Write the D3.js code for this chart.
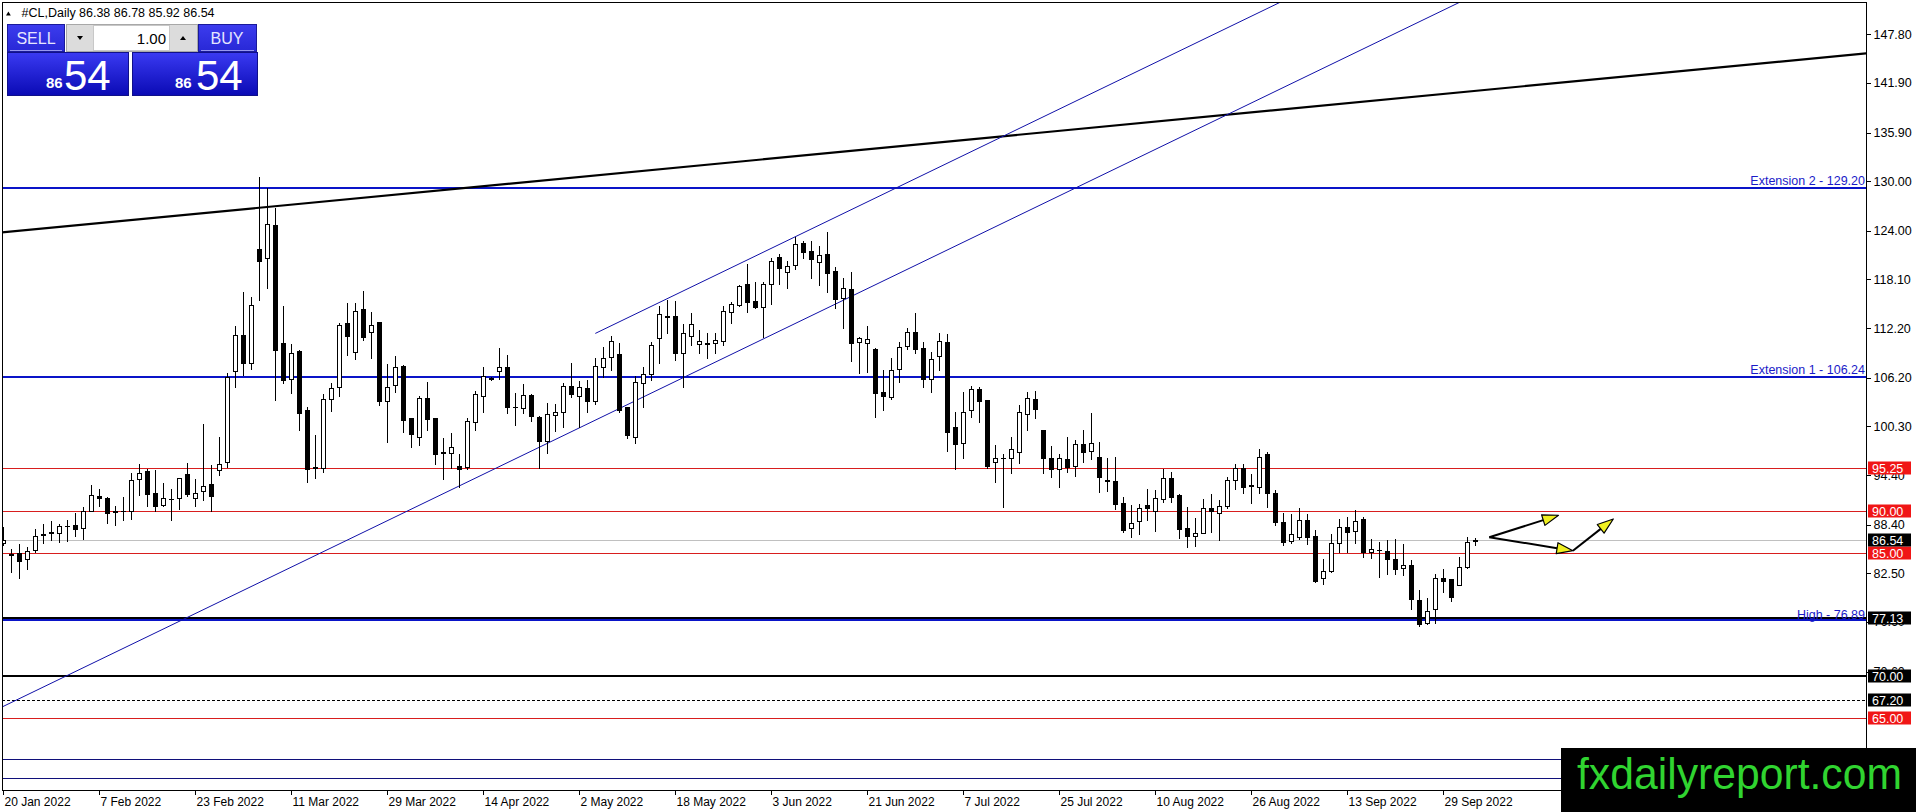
<!DOCTYPE html>
<html><head><meta charset="utf-8">
<script src="https://cdn.jsdelivr.net/npm/d3@7"></script>
<style>
html,body{margin:0;padding:0;background:#fff;overflow:hidden}
svg{display:block}
text{font-family:"Liberation Sans",Arial,sans-serif}
</style></head><body>
<svg id="c" width="1916" height="812"></svg>
<script>
// ---------------- DATA ----------------
const symbolName = "#CL,Daily";
const lastQuote = [86.38, 86.78, 85.92, 86.54];
const dateLabels = ["20 Jan 2022","7 Feb 2022","23 Feb 2022","11 Mar 2022","29 Mar 2022","14 Apr 2022","2 May 2022","18 May 2022","3 Jun 2022","21 Jun 2022","7 Jul 2022","25 Jul 2022","10 Aug 2022","26 Aug 2022","13 Sep 2022","29 Sep 2022"];
const dateTickIndex = [0,12,24,36,48,60,72,84,96,108,120,132,144,156,168,180];
const priceTicks = [147.80,141.90,135.90,130.00,124.00,118.10,112.20,106.20,100.30,94.40,88.40,82.50,76.60,70.60];

const opens = [86.13,84.85,84.9,84.2,85.3,87.15,87.5,87.4,88.2,88.35,87.95,90.1,91.9,91.6,90.0,90.0,90.1,93.9,94.9,92.2,
90.8,91.5,91.65,94.5,91.65,92.5,93.3,95.0,96.0,107.05,111.4,107.94,121.79,120.66,124.7,110.36,105.99,109.43,102.28,95.2,
95.29,103.57,105.02,112.78,109.26,114.47,111.69,112.9,103.41,105.31,107.61,101.27,98.97,103.77,101.27,97.05,97.1,95.53,95.33,100.86,
104.01,106.1,107.05,107.53,102.7,102.48,104.1,101.47,98.56,101.7,102.08,105.19,104.02,104.9,103.41,107.53,108.74,109.06,102.68,98.97,
105.51,106.64,110.96,113.65,113.67,109.14,111.25,110.3,110.35,110.36,110.68,114.19,115.0,117.51,115.49,114.8,117.51,120.78,119.05,119.85,
122.48,121.55,120.18,121.15,119.13,115.9,116.95,110.48,110.36,109.68,104.42,103.9,107.21,110.04,111.78,109.76,106.04,108.83,110.48,100.27,
98.25,102.29,104.83,103.5,95.95,96.45,96.43,97.24,101.76,103.62,99.86,96.43,95.14,96.31,95.54,98.12,97.32,96.55,93.8,93.72,
90.97,88.03,88.83,90.77,90.05,91.5,94.09,91.99,87.95,87.06,87.34,90.37,89.77,90.69,93.8,95.22,93.2,93.0,96.9,92.27,
88.75,86.45,86.85,88.95,87.02,81.89,82.77,86.21,88.07,87.66,89.03,85.12,85.35,85.24,84.19,83.1,83.5,79.26,76.43,78.13,
81.89,81.76,81.08,83.22,86.38];
const highs = [88.14,85.5,86.1,85.7,87.9,88.5,88.8,88.5,88.95,89.8,90.5,93.2,92.7,91.8,90.6,91.7,94.6,95.8,95.1,95.0,
93.4,92.7,94.0,95.9,93.9,100.6,95.6,99.05,106.8,112.5,116.6,116.01,130.55,129.14,126.72,114.88,110.27,109.6,102.68,99.25,
104.22,105.51,112.78,115.2,115.28,116.7,114.19,112.95,107.85,108.82,107.7,101.3,103.97,105.67,101.3,98.84,99.45,96.95,101.27,104.62,
107.53,106.3,109.83,108.94,104.3,105.43,104.22,101.5,103.17,103.0,105.59,107.93,105.83,105.91,108.54,109.95,111.25,110.36,102.7,106.4,
107.53,110.56,114.88,115.61,115.53,112.7,113.99,111.97,111.57,111.57,114.88,115.4,117.43,119.93,117.83,117.83,120.66,121.15,120.34,123.21,
122.76,122.76,122.2,123.81,119.65,118.24,118.97,111.17,112.46,109.76,107.13,108.54,110.48,112.18,114.0,110.48,109.35,111.57,111.45,102.08,
104.42,105.23,105.03,103.55,98.04,96.9,99.01,102.89,104.5,104.63,99.9,97.96,96.91,99.01,98.61,99.86,101.88,98.37,96.43,96.55,
91.78,90.77,90.85,92.67,92.59,95.14,94.81,92.07,90.57,89.16,91.46,92.07,91.38,94.21,95.7,95.7,94.5,97.6,97.2,92.59,
89.76,89.68,90.37,89.68,87.74,84.19,87.26,89.03,89.36,90.16,89.28,86.61,86.33,86.53,86.61,86.05,84.11,80.47,79.46,82.41,
82.98,81.76,84.51,86.93,86.78];
const lows = [85.92,82.7,81.9,83.0,85.1,86.2,86.5,86.3,86.45,87.0,86.6,90.0,90.65,88.55,88.35,89.0,89.1,92.0,90.65,90.1,
90.6,89.0,90.25,91.9,90.6,91.4,90.1,94.4,95.35,105.1,106.5,107.21,115.6,117.02,103.49,105.51,104.38,99.85,93.51,94.0,
94.81,102.2,103.97,108.94,108.42,110.76,108.62,102.88,98.44,104.5,99.65,97.75,98.04,99.85,95.69,93.88,95.21,92.99,95.09,99.85,
102.08,105.9,106.0,101.96,100.46,101.87,100.95,95.21,97.03,99.78,100.18,103.81,100.26,102.08,103.0,106.32,107.13,102.08,98.84,98.24,
102.68,105.91,108.02,111.65,108.34,105.1,110.16,109.14,108.54,109.22,110.16,112.86,114.88,114.12,114.6,111.17,115.13,117.55,117.11,119.33,
120.74,118.32,117.43,116.62,114.6,112.26,108.22,106.73,106.93,101.48,102.29,103.62,105.64,109.68,109.15,105.11,104.5,107.13,97.32,95.14,
96.51,101.48,100.87,95.3,93.6,90.57,94.61,95.82,99.86,101.36,94.61,94.21,93.0,94.81,94.33,96.03,96.35,92.39,92.47,90.29,
87.54,86.94,87.22,88.95,87.66,91.18,91.18,86.82,85.73,85.85,87.34,87.46,86.53,90.45,92.71,92.27,91.05,92.27,90.57,88.35,
85.92,86.21,86.61,86.05,81.48,81.16,82.69,85.12,85.12,86.13,84.51,84.31,82.09,82.41,82.41,82.29,78.13,76.11,76.35,76.51,
80.27,79.18,81.08,83.1,85.92];
const closes = [86.53,84.75,84.0,85.2,87.05,87.25,87.35,88.2,88.25,87.9,90.1,92.0,91.6,89.75,89.9,90.1,93.8,94.7,92.1,90.65,
91.65,91.55,94.0,92.1,92.2,93.05,91.9,95.8,106.3,111.4,108.0,115.0,120.33,124.82,109.55,105.91,109.14,101.95,95.13,95.35,
103.57,104.9,112.58,111.28,114.31,111.16,112.58,103.41,105.1,107.45,101.11,99.37,103.77,101.23,96.91,97.15,97.83,95.09,100.98,104.22,
106.4,106.2,107.53,102.68,102.6,104.1,101.55,98.56,101.79,102.0,105.19,104.22,105.03,103.41,107.61,108.54,110.64,102.28,99.25,105.63,
106.64,110.16,113.87,113.55,109.22,111.57,112.66,110.6,110.3,110.76,114.31,115.08,117.3,115.33,114.8,117.51,120.34,119.45,119.69,122.36,
121.39,120.54,121.07,118.92,115.73,117.03,110.36,110.97,110.84,104.3,104.02,107.09,109.88,111.78,109.64,106.04,108.42,110.68,99.58,98.12,
102.08,104.79,103.42,95.54,96.43,96.5,97.52,102.0,103.7,102.37,96.51,95.14,96.43,95.42,98.12,97.24,98.25,94.13,93.7,90.85,
87.75,88.55,90.45,90.45,91.58,94.0,91.78,87.87,87.06,87.34,90.37,90.05,90.69,93.8,95.3,92.91,93.07,96.6,92.27,88.75,
86.33,87.26,88.95,86.93,81.6,82.77,86.13,88.07,87.54,88.87,85.12,85.4,85.3,84.19,82.98,83.5,79.34,76.35,77.97,81.89,
81.6,79.66,83.3,86.33,86.54];

const redLevels = [95.25, 90.00, 85.00, 65.00];
const blackLevels = [77.13, 70.00];
const dashedLevels = [67.20];
const navyLevels = [59.96, 57.66];
const currentPrice = 86.54;
const extensionLevels = [106.24, 129.20];
const extensionLabels = ["Extension 1 - 106.24", "Extension 2 - 129.20"];
const highLevel = 76.89;
const highLabel = "High - 76.89";
// trend lines as [barIndex, price] pairs
const trendBlack = [[-0.41, 123.77], [232.9, 145.5]];
const channelLower = [[-2, 65.44], [190, 155.41]];
const channelUpper = [[74, 111.56], [170, 156.55]];
const arrowSegments = [
  [[185.75, 86.86], [194.4, 89.53]],
  [[185.75, 86.86], [196.2, 85.24]],
  [[196.2, 85.24], [201.25, 89.08]]
];

// ---------------- LAYOUT ----------------
const W = 1916, H = 812;
const pL = 2, pT = 2, pR = 1866, pB = 790;
const svg = d3.select("#c");

const x = d3.scaleLinear().domain([0, 180]).range([3.3, 1443.3]);
const y = d3.scaleLinear().domain([82.5, 147.8]).range([573.3, 34.3]);

const defs = svg.append("defs");
defs.append("clipPath").attr("id","plot").append("rect")
  .attr("x", pL).attr("y", pT).attr("width", pR-pL).attr("height", pB-pT);

const plot = svg.append("g").attr("clip-path","url(#plot)");
const crisp = v => Math.round(v) + 0.5;

function hline(v, color, w, dash){
  const yy = w % 2 === 0 ? Math.round(y(v)) : crisp(y(v));
  plot.append("line").attr("x1", pL).attr("x2", pR).attr("y1", yy).attr("y2", yy)
    .attr("stroke", color).attr("stroke-width", w)
    .attr("stroke-dasharray", dash || null).attr("shape-rendering","crispEdges");
}

// horizontal levels
navyLevels.forEach(v => hline(v, "#10107a", 1));
hline(currentPrice, "#c0c0c0", 1);
redLevels.forEach(v => hline(v, "#d81e1e", 1));
dashedLevels.forEach(v => hline(v, "#000", 1, "3,2"));
extensionLevels.forEach(v => hline(v, "#0a14c8", 2));
hline(highLevel, "#0a14c8", 2);
blackLevels.forEach(v => hline(v, "#000", 2));

// trend lines
const lineGen = d3.line().x(d => x(d[0])).y(d => y(d[1]));
plot.append("path").attr("d", lineGen(trendBlack)).attr("stroke","#000").attr("stroke-width",2.2).attr("fill","none");
plot.append("path").attr("d", lineGen(channelLower)).attr("stroke","#1010a8").attr("stroke-width",1).attr("fill","none");
plot.append("path").attr("d", lineGen(channelUpper)).attr("stroke","#1010a8").attr("stroke-width",1).attr("fill","none");

// level text labels
const lab = plot.append("g").attr("font-size", 12.5).attr("fill", "#1a1ac8").attr("text-anchor","end");
extensionLevels.forEach((v,k) => lab.append("text").attr("x", pR-1).attr("y", Math.round(y(v))-3).text(extensionLabels[k]));
lab.append("text").attr("x", pR-1).attr("y", Math.round(y(highLevel))-1).text(highLabel);

// candles
const idx = d3.range(opens.length);
const cg = plot.append("g").attr("shape-rendering","crispEdges");
const c = cg.selectAll("g").data(idx).join("g");
c.append("line")
  .attr("x1", i => Math.round(x(i))+0.5).attr("x2", i => Math.round(x(i))+0.5)
  .attr("y1", i => Math.round(y(highs[i]))).attr("y2", i => Math.round(y(lows[i]))+1)
  .attr("stroke","#000").attr("stroke-width",1);
c.each(function(i){
  const g = d3.select(this);
  const cx = Math.round(x(i));
  const yt = Math.round(y(Math.max(opens[i], closes[i])));
  const yb = Math.round(y(Math.min(opens[i], closes[i])));
  if (yb - yt < 1) {
    g.append("line").attr("x1", cx-2).attr("x2", cx+3).attr("y1", yt+0.5).attr("y2", yt+0.5)
      .attr("stroke","#000").attr("stroke-width",1);
  } else {
    g.append("rect").attr("x", cx-1.5).attr("y", yt+0.5).attr("width", 4).attr("height", yb-yt)
      .attr("fill", closes[i] >= opens[i] ? "#fff" : "#000").attr("stroke","#000").attr("stroke-width",1);
  }
});

// arrows
const ag = plot.append("g");
arrowSegments.forEach(seg => {
  const x1 = x(seg[0][0]), y1 = y(seg[0][1]), x2 = x(seg[1][0]), y2 = y(seg[1][1]);
  const dx = x2-x1, dy = y2-y1, L = Math.hypot(dx,dy), ux = dx/L, uy = dy/L;
  const hl = 16, hw = 5.5;
  const bx = x2 - ux*hl, by = y2 - uy*hl;
  ag.append("line").attr("x1",x1).attr("y1",y1).attr("x2",bx).attr("y2",by)
    .attr("stroke","#000").attr("stroke-width",2);
  ag.append("path").attr("d", `M${x2},${y2}L${bx - uy*hw},${by + ux*hw}L${bx + uy*hw},${by - ux*hw}Z`)
    .attr("fill","#f0f020").attr("stroke","#000").attr("stroke-width",1.2).attr("stroke-linejoin","round");
});

// frame
svg.append("rect").attr("x", pL+0.5).attr("y", pT+0.5).attr("width", pR-pL).attr("height", pB-pT)
  .attr("fill","none").attr("stroke","#000").attr("stroke-width",1).attr("shape-rendering","crispEdges");

// price axis
const yAxis = d3.axisRight(y).tickValues(priceTicks).tickFormat(d3.format(".2f")).tickSize(4).tickPadding(3);
const yg = svg.append("g").attr("transform", `translate(${pR+0.5},0)`).call(yAxis);
yg.select(".domain").remove();
yg.selectAll("text").attr("font-family","Liberation Sans, Arial, sans-serif").attr("font-size","12.5px").attr("fill","#000");
yg.selectAll("line").attr("stroke","#000").attr("shape-rendering","crispEdges");

// date axis
const xAxis = d3.axisBottom(x).tickValues(dateTickIndex).tickFormat((d,k) => dateLabels[k]).tickSize(4).tickPadding(3);
const xg = svg.append("g").attr("transform", `translate(0,${pB+0.5})`).call(xAxis);
xg.select(".domain").remove();
xg.selectAll("line").attr("stroke","#000").attr("shape-rendering","crispEdges");
xg.selectAll("text").attr("font-family","Liberation Sans, Arial, sans-serif").attr("font-size","12px")
  .attr("fill","#000").attr("text-anchor","start").attr("dx", 1);
xg.selectAll(".tick").attr("transform", d => `translate(${Math.round(x(d))+0.5},0)`);

// price boxes
const boxes = [
  ...redLevels.map(v => ({v, fill:"#f01616"})),
  {v: currentPrice, fill:"#000"},
  ...blackLevels.map(v => ({v, fill:"#000"})),
  ...dashedLevels.map(v => ({v, fill:"#000"}))
];
const bg = svg.append("g");
boxes.forEach(b => {
  const yy = Math.round(y(b.v));
  bg.append("rect").attr("x", pR+2).attr("y", yy-6.5).attr("width", 43).attr("height", 13).attr("fill", b.fill);
  bg.append("text").attr("x", pR+6).attr("y", yy+4.5).attr("font-size","12.5px").attr("fill","#fff").text(b.v.toFixed(2));
});

// header quote line
const hd = svg.append("g");
hd.append("path").attr("d","M6,15.5L8.4,11.5L10.8,15.5Z").attr("fill","#000");
hd.append("text").attr("x", 21.5).attr("y", 17).attr("font-size","12.5px").attr("fill","#000").text(symbolName);
hd.append("text").attr("x", 79).attr("y", 17).attr("font-size","12.5px").attr("fill","#000")
  .text(lastQuote.map(v => v.toFixed(2)).join(" "));

// trade panel
const grad = defs.append("linearGradient").attr("id","bluegrad").attr("x1",0).attr("y1",0).attr("x2",0).attr("y2",1);
grad.append("stop").attr("offset","0%").attr("stop-color","#3a3af2");
grad.append("stop").attr("offset","100%").attr("stop-color","#0a0ab4");
const grad2 = defs.append("linearGradient").attr("id","btngrad").attr("x1",0).attr("y1",0).attr("x2",0).attr("y2",1);
grad2.append("stop").attr("offset","0%").attr("stop-color","#3c3cee");
grad2.append("stop").attr("offset","100%").attr("stop-color","#2828d6");

const pn = svg.append("g");
pn.append("rect").attr("x",7.5).attr("y",24.5).attr("width",57).attr("height",27).attr("fill","url(#btngrad)").attr("stroke","#1a1a9a");
pn.append("line").attr("x1",10).attr("x2",62).attr("y1",50.5).attr("y2",50.5).attr("stroke","#9898f0");
pn.append("text").attr("x",36).attr("y",44).attr("text-anchor","middle").attr("font-size","16px").attr("fill","#e6e6ff").text("SELL");
pn.append("rect").attr("x",198.5).attr("y",24.5).attr("width",58).attr("height",27).attr("fill","url(#btngrad)").attr("stroke","#1a1a9a");
pn.append("line").attr("x1",201).attr("x2",254).attr("y1",50.5).attr("y2",50.5).attr("stroke","#9898f0");
pn.append("text").attr("x",227).attr("y",44).attr("text-anchor","middle").attr("font-size","16px").attr("fill","#e6e6ff").text("BUY");
// spinner
pn.append("rect").attr("x",66.5).attr("y",24.5).attr("width",131).attr("height",27).attr("fill","#dcdcdc").attr("stroke","#a8a8a8");
pn.append("rect").attr("x",93.5).attr("y",25.5).attr("width",76).attr("height",25).attr("fill","#fff").attr("stroke","#c8c8c8");
pn.append("path").attr("d","M77,36L83,36L80,40Z").attr("fill","#000");
pn.append("path").attr("d","M180,40L186,40L183,36Z").attr("fill","#000");
pn.append("text").attr("x",166).attr("y",44).attr("text-anchor","end").attr("font-size","15px").attr("fill","#000").text("1.00");
// big price boxes
const qs = lastQuote[3].toFixed(2).split(".");
[[7.5,121,46,64],[132.5,125,175,196]].forEach(([bx,bw,tx1,tx2]) => {
  pn.append("rect").attr("x",bx).attr("y",52.5).attr("width",bw).attr("height",43).attr("fill","url(#bluegrad)").attr("stroke","#10108a");
  pn.append("text").attr("x",tx1).attr("y",88).attr("font-size","15px").attr("font-weight","bold").attr("fill","#fff").text(qs[0]);
  pn.append("text").attr("x",tx2).attr("y",90).attr("font-size","42px").attr("fill","#fff").text(qs[1]);
});

// watermark
svg.append("rect").attr("x",1561).attr("y",748).attr("width",W-1561).attr("height",H-748).attr("fill","#000");
svg.append("text").attr("x",1577).attr("y",789).attr("font-size","44px")
  .attr("font-family","Liberation Sans Narrow, Liberation Sans, Arial, sans-serif")
  .attr("textLength",325).attr("lengthAdjust","spacingAndGlyphs").attr("fill","#30d430").text("fxdailyreport.com");
</script>
</body></html>
